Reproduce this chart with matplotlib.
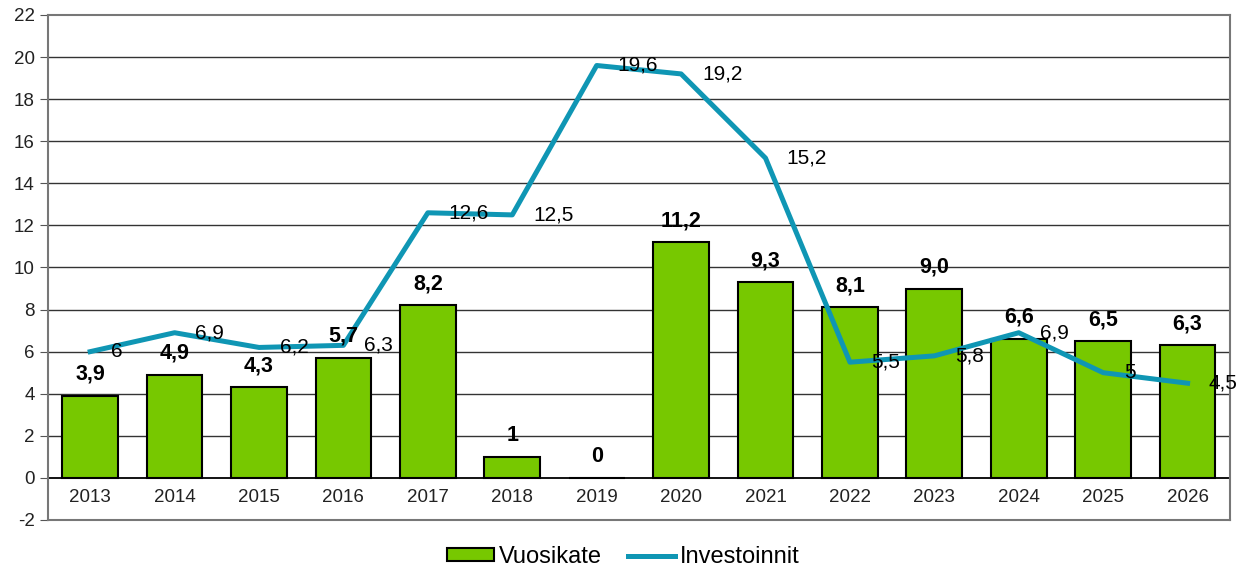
import matplotlib.pyplot as plt
import numpy as np

plt.rcParams['font.family'] = ['Liberation Sans', 'DejaVu Sans']
plt.rcParams['axes.unicode_minus'] = False

vuodet = ["2013", "2014", "2015", "2016", "2017", "2018", "2019",
          "2020", "2021", "2022", "2023", "2024", "2025", "2026"]
vuosikate = [3.9, 4.9, 4.3, 5.7, 8.2, 1.0, 0.0, 11.2, 9.3, 8.1, 9.0, 6.6, 6.5, 6.3]
vuosikate_txt = ["3,9", "4,9", "4,3", "5,7", "8,2", "1", "0",
                 "11,2", "9,3", "8,1", "9,0", "6,6", "6,5", "6,3"]
investoinnit = [6.0, 6.9, 6.2, 6.3, 12.6, 12.5, 19.6, 19.2, 15.2, 5.5, 5.8, 6.9, 5.0, 4.5]
investoinnit_txt = ["6", "6,9", "6,2", "6,3", "12,6", "12,5", "19,6",
                    "19,2", "15,2", "5,5", "5,8", "6,9", "5", "4,5"]

fig = plt.figure(figsize=(12.46, 5.66), dpi=100)
ax = fig.add_axes([0.0385, 0.0813, 0.9485, 0.8922])

x = np.arange(len(vuodet))
palkit = ax.bar(x, vuosikate, width=0.66, color='#77c800', edgecolor='black',
                linewidth=1.5, label='Vuosikate', zorder=2)
viiva, = ax.plot(x, investoinnit, color='#0f96b4', linewidth=3.6, label='Investoinnit',
                 zorder=3)

# arvot
for xi, v, t in zip(x, vuosikate, vuosikate_txt):
    ax.annotate(t, (xi, v), xytext=(0, 8), textcoords='offset points',
                ha='center', va='bottom', fontsize=15.5, fontweight='bold', zorder=4)
for xi, v, t in zip(x, investoinnit, investoinnit_txt):
    ax.annotate(t, (xi, v), xytext=(15, 0), textcoords='offset points',
                ha='left', va='center', fontsize=15, zorder=4)

# vuosiluvut akselin sisällä (0 ja -2 välissä)
for xi, t in zip(x, vuodet):
    ax.text(xi, -0.95, t, ha='center', va='center', fontsize=13.5, color='#222222')

ax.set_xlim(-0.5, len(vuodet) - 0.5)
ax.set_ylim(-2, 22)
ax.set_yticks(range(-2, 23, 2))
ax.set_xticks([])
ax.tick_params(axis='y', labelsize=13.5, length=6, color='#555555', labelcolor='#222222')

for y in range(2, 21, 2):
    ax.axhline(y, color='#333333', linewidth=1, zorder=1)
ax.axhline(0, color='black', linewidth=1.3, zorder=2.5)

for s in ['left', 'right', 'top', 'bottom']:
    ax.spines[s].set_color('#777777')
    ax.spines[s].set_linewidth(1.5)

fig.legend([palkit, viiva], ['Vuosikate', 'Investoinnit'],
           loc='center', bbox_to_anchor=(0.5, 0.016), ncol=2, frameon=False,
           fontsize=17, handlelength=2.0, handleheight=0.45, columnspacing=1.1,
           handletextpad=0.2)

plt.savefig("out.png", dpi=100)
